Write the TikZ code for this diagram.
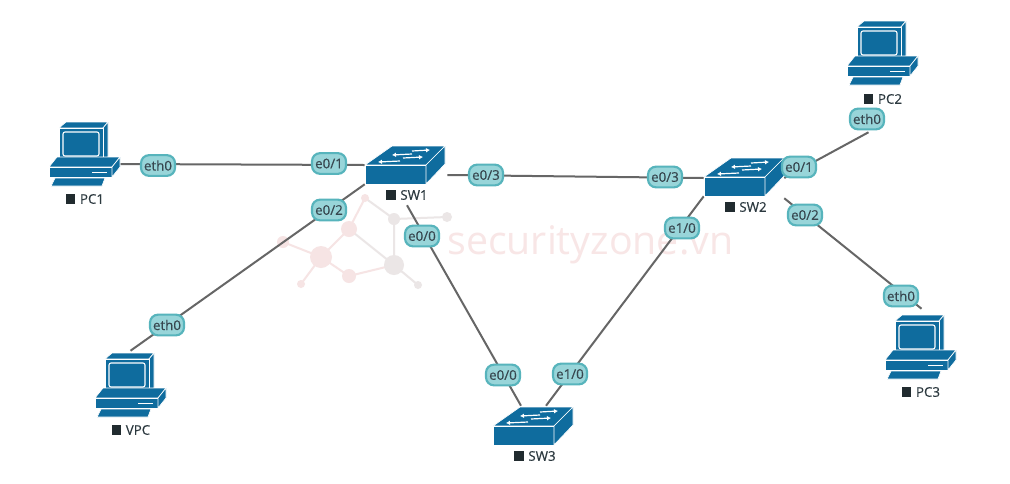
\documentclass[tikz,border=0pt]{standalone}
\usepackage{fontspec}
\setmainfont{Open Sans}
\newfontfamily\labelfont[FakeBold=0.35]{Open Sans}
\usetikzlibrary{arrows.meta,calc}
\definecolor{devblue}{HTML}{0F6C9E}
\definecolor{linkgrey}{HTML}{666666}
\definecolor{portfill}{HTML}{98D5D9}
\definecolor{portedge}{HTML}{57B4BC}
\definecolor{porttext}{HTML}{37474F}
\definecolor{markpink}{HTML}{F6E4E4}
\definecolor{markgrey}{HTML}{EBE6E6}
\definecolor{marktext}{HTML}{F8E6E6}
\tikzset{
  x=0.75pt, y=-0.75pt,
  devface/.style={fill=devblue, draw=white, line width=0.5pt, line join=round},
  wire/.style={draw=linkgrey, line width=1.5pt},
  port/.style={draw=portedge, fill=portfill, line width=1.6pt, rounded corners=6pt,
    minimum width=25.5pt, minimum height=15.5pt, inner sep=0pt, text=porttext,
    font=\fontsize{10}{12}\labelfont},
  devname/.style={text=porttext!80!black, inner sep=0pt, font=\fontsize{10}{12}\labelfont},
  pcbox/.style={minimum width=53.25pt, minimum height=48pt, inner sep=0pt},
  swbox/.style={minimum width=60pt, minimum height=28.5pt, inner sep=0pt},
  markline/.style={line width=1.5pt},
  swarrow/.style={white, line width=0.9pt},
  pcicon/.pic={
    \path[devface] (10,6) -- (17,0) -- (59,0) -- (54,6) -- cycle;
    \path[devface] (54,6) -- (59,0) -- (59,35) -- (54,38) -- cycle;
    \path[devface] (10,6) rectangle (54,38);
    \draw[white, line width=0.8pt, rounded corners=1.5pt] (14,10) rectangle (50,34);
    \path[devface] (8,35) -- (71,35) -- (63,45) -- (0,45) -- cycle;
    \path[devface] (0,45) rectangle (63,55);
    \path[devface] (63,45) -- (71,35) -- (71,45) -- (63,55) -- cycle;
    \draw[white, line width=1.1pt] (43,50.5) -- (58,50.5);
    \path[devface] (6,56) -- (56,56) -- (53,64) -- (2,64) -- cycle;
  },
  swicon/.pic={
    \path[devface] (27,0) -- (80,0) -- (61,19) -- (0,19) -- cycle;
    \path[devface] (0,19) rectangle (61,38);
    \path[devface] (61,19) -- (80,0) -- (80,18) -- (61,38) -- cycle;
    \draw[swarrow, {Latex[length=3pt,width=3.5pt]}-] (27,9) -- (47,8);
    \draw[swarrow, -{Latex[length=3pt,width=3.5pt]}] (47,5) -- (65,4);
    \draw[swarrow, {Latex[length=3pt,width=3.5pt]}-] (13,16) -- (35,15);
    \draw[swarrow, -{Latex[length=3pt,width=3.5pt]}] (38,12) -- (58,11);
  },
}
\newcommand{\devlabel}[1]{\textcolor{porttext!60!black}{\rule{7pt}{7pt}}\hspace{3.5pt}#1}
\begin{document}
\begin{tikzpicture}
\useasboundingbox (0,0) rectangle (1010,483);
\fill[white] (0,0) rectangle (1010,483);

% Faint logo and web address behind the network
\draw[markline, markpink] (283,242) -- (321,257) -- (349,229) -- (365,198);
\draw[markline, markpink] (321,257) -- (349,276) -- (394,265);
\draw[markline, markpink] (321,257) -- (301,284);
\draw[markline, markgrey] (365,198) -- (394,219) -- (394,265) -- (418,285);
\draw[markline, markgrey] (394,219) -- (447,217);
\draw[markline, markgrey] (349,229) -- (394,265);
\foreach \px/\py/\r/\c in {283/242/6/markpink,321/257/11/markpink,349/229/8/markpink,349/276/7/markpink,301/284/4/markpink,
                           365/198/4/markpink,394/219/6/markgrey,447/217/5/markgrey,394/265/10/markgrey,418/285/4/markgrey}
  \fill[\c] (\px,\py) circle[radius=\r*0.75pt];
\node[text=marktext, inner sep=0pt, font=\fontsize{29.5}{32}\selectfont, anchor=west] (site) at (447,245) {securityzone.vn};

% Devices: an empty box gives each one its name, the icon is drawn inside it
\node[pcbox] (PC1) at (84.5,154) {};
\node[pcbox] (PC2) at (882.5,53) {};
\node[pcbox] (PC3) at (920.5,347) {};
\node[pcbox] (VPC) at (130.5,385) {};
\node[swbox] (SW1) at (405,165) {};
\node[swbox] (SW2) at (744,177) {};
\node[swbox] (SW3) at (533,426) {};

% Links
\draw[wire] ([shift={(0,10)}]PC1.east) -- (SW1.west);
\draw[wire] ([shift={(2,10)}]SW1.east) -- ([shift={(0,1)}]SW2.west);
\draw[wire] (SW1.south west) -- ([shift={(0,-2)}]VPC.north);
\draw[wire] ([shift={(2,21)}]SW1.south) -- ([shift={(-12,-1)}]SW3.north);
\draw[wire] (SW2.south west) -- ([shift={(13,-1)}]SW3.north);
\draw[wire] ([shift={(0,1)}]SW2.east) -- ([shift={(-14,47)}]PC2.south);
\draw[wire] ([shift={(0,2)}]SW2.south east) -- ([shift={(1,-6)}]PC3.north);

% Icons above the links
\pic at (49,122) {pcicon};
\pic at (847,21) {pcicon};
\pic at (885,315) {pcicon};
\pic at (95,353) {pcicon};
\pic at (365,146) {swicon};
\pic at (704,158) {swicon};
\pic at (493,407) {swicon};

% Device names
\node[devname] (nPC1) at (85,199) {\devlabel{PC1}};
\node[devname] (nPC2) at (883,99) {\devlabel{PC2}};
\node[devname] (nPC3) at (921,392) {\devlabel{PC3}};
\node[devname] (nVPC) at (131,430) {\devlabel{VPC}};
\node[devname] (nSW1) at (407,195) {\devlabel{SW1}};
\node[devname] (nSW2) at (746,207) {\devlabel{SW2}};
\node[devname] (nSW3) at (535,456) {\devlabel{SW3}};

% Port labels
\node[port] (p1) at (158,165.5) {eth0};
\node[port] (p2) at (329,163.5) {e0/1};
\node[port] (p3) at (329,210) {e0/2};
\node[port] (p4) at (167,325) {eth0};
\node[port] (p5) at (422,236) {e0/0};
\node[port] (p6) at (486,175) {e0/3};
\node[port] (p7) at (665,177) {e0/3};
\node[port] (p8) at (682,228) {e1/0};
\node[port] (p9) at (503,375) {e0/0};
\node[port] (p10) at (570,374) {e1/0};
\node[port] (p11) at (799,167) {e0/1};
\node[port] (p12) at (805,215) {e0/2};
\node[port] (p13) at (867,119) {eth0};
\node[port] (p14) at (901,296) {eth0};
\end{tikzpicture}
\end{document}
